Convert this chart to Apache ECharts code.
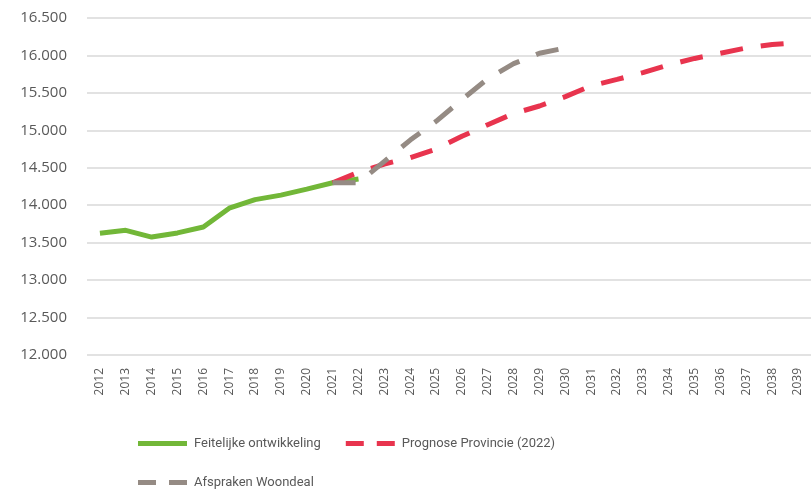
<!DOCTYPE html>
<html>
<head>
<meta charset="utf-8">
<script src="https://cdn.jsdelivr.net/npm/echarts@6/dist/echarts.min.js"></script>
<style>
  html, body { margin: 0; padding: 0; background: #fff; }
  #chart { width: 811px; height: 489px; }
</style>
</head>
<body>
<div id="chart"></div>
<script>
const years = ['2012', '2013', '2014', '2015', '2016', '2017', '2018', '2019', '2020', '2021',
  '2022', '2023', '2024', '2025', '2026', '2027', '2028', '2029', '2030', '2031',
  '2032', '2033', '2034', '2035', '2036', '2037', '2038', '2039']

// Feitelijke ontwikkeling (realised)
const feitelijk = [13625, 13665, 13575, 13630, 13710, 13960, 14075, 14135, 14215, 14300,
  14350, null, null, null, null, null, null, null, null, null,
  null, null, null, null, null, null, null, null]

// Prognose Provincie (2022)
const prognose = [null, null, null, null, null, null, null, null, null, 14300,
  14440, 14550, 14635, 14750, 14920, 15075, 15225, 15325, 15450, 15595,
  15680, 15770, 15875, 15960, 16030, 16100, 16145, 16170]

// Afspraken Woondeal
const woondeal = [null, null, null, null, null, null, null, null, null, 14300,
  14300, 14585, 14870, 15120, 15410, 15690, 15890, 16030, 16100, null,
  null, null, null, null, null, null, null, null]

const font = '"Open Sans", "Liberation Sans", sans-serif'
const legendFont = 'Roboto, "Open Sans", sans-serif'
const labelColor = '#595959'

// legend icons: solid bar and two-dash bar
const solidIcon = 'path://M0,0h49v5h-49z'
const dashIcon = 'path://M0,0h18v5h-18zM31,0h18v5h-18z'

const chart = echarts.init(document.getElementById('chart'))
chart.setOption({
  animation: false,
  grid: {left: 87, right: 0, top: 18, bottom: 134},
  legend: [
    {
      left: 138,
      top: 437,
      padding: 0,
      itemWidth: 49,
      itemHeight: 5,
      itemGap: 25,
      textStyle: {fontFamily: legendFont, fontSize: 13, color: labelColor, padding: [0, 0, 0, 2]},
      data: [
        {name: 'Feitelijke ontwikkeling', icon: solidIcon},
        {name: 'Prognose Provincie (2022)', icon: dashIcon},
      ],
    },
    {
      left: 138,
      top: 476,
      padding: 0,
      itemWidth: 49,
      itemHeight: 5,
      textStyle: {fontFamily: legendFont, fontSize: 13, color: labelColor, padding: [0, 0, 0, 2]},
      data: [{name: 'Afspraken Woondeal', icon: dashIcon}],
    },
  ],
  xAxis: {
    type: 'category',
    data: years,
    boundaryGap: true,
    axisLine: {show: false},
    axisTick: {show: false},
    axisLabel: {rotate: 90, margin: 13, fontFamily: font, fontSize: 12, color: labelColor},
  },
  yAxis: {
    type: 'value',
    min: 12000,
    max: 16500,
    interval: 500,
    axisLabel: {
      margin: 20,
      fontFamily: font,
      fontSize: 15,
      color: labelColor,
      formatter: (v) => String(v).replace(/(\d+)(\d{3})$/, '$1.$2'),
    },
    splitLine: {lineStyle: {color: '#d9d9d9', width: 1.5}},
  },
  series: [
    {
      name: 'Feitelijke ontwikkeling',
      type: 'line',
      data: feitelijk,
      symbol: 'none',
      lineStyle: {color: '#72b738', width: 5},
      itemStyle: {color: '#72b738'},
    },
    {
      name: 'Prognose Provincie (2022)',
      type: 'line',
      data: prognose,
      symbol: 'none',
      lineStyle: {color: '#e8344e', width: 5, type: [23, 18], cap: 'butt'},
      itemStyle: {color: '#e8344e'},
    },
    {
      name: 'Afspraken Woondeal',
      type: 'line',
      data: woondeal,
      symbol: 'none',
      lineStyle: {color: '#958b84', width: 5, type: [23, 18], cap: 'butt'},
      itemStyle: {color: '#958b84'},
    },
  ],
})
</script>
</body>
</html>
